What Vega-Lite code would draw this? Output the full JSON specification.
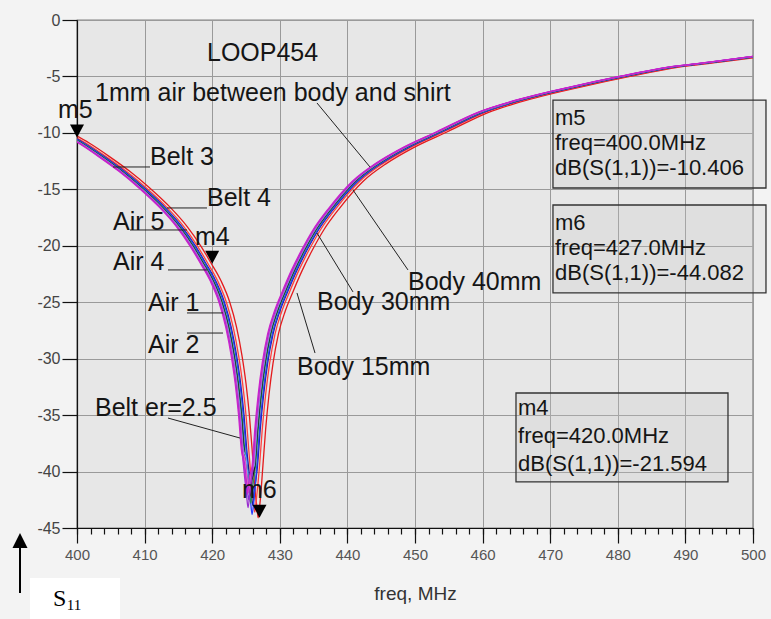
{
"$schema": "https://vega.github.io/schema/vega-lite/v6.json",
"width": 676, "height": 508,
"autosize": {"type": "none"},
"padding": {"left": 77, "top": 20, "right": 18, "bottom": 91},
"background": "#f3f3f3",
"config": {"view": {"stroke": "#111", "strokeWidth": 1.2, "fill": "#e7e7e7"}, "font": "Liberation Sans"},
"resolve": {"axis": {"x": "independent", "y": "independent"}},
"datasets": {
"curves": [
{"c":"Body 15mm","f":398.8,"y":-9.9},{"c":"Body 15mm","f":401.8,"y":-10.9},{"c":"Body 15mm","f":404.8,"y":-12.1},{"c":"Body 15mm","f":407.8,"y":-13.4},{"c":"Body 15mm","f":410.8,"y":-14.9},{"c":"Body 15mm","f":413.8,"y":-16.6},{"c":"Body 15mm","f":416.3,"y":-18.3},{"c":"Body 15mm","f":418.3,"y":-20.0},{"c":"Body 15mm","f":419.8,"y":-21.5},{"c":"Body 15mm","f":421.3,"y":-23.1},{"c":"Body 15mm","f":422.6,"y":-25.0},{"c":"Body 15mm","f":423.6,"y":-27.2},{"c":"Body 15mm","f":424.4,"y":-29.7},{"c":"Body 15mm","f":425.0,"y":-32.2},{"c":"Body 15mm","f":425.5,"y":-35.0},{"c":"Body 15mm","f":425.9,"y":-38.0},{"c":"Body 15mm","f":426.3,"y":-41.4},{"c":"Body 15mm","f":426.6,"y":-43.1},{"c":"Body 15mm","f":426.8,"y":-44.1},{"c":"Body 15mm","f":427.1,"y":-42.6},{"c":"Body 15mm","f":427.5,"y":-39.5},{"c":"Body 15mm","f":427.9,"y":-36.3},{"c":"Body 15mm","f":428.4,"y":-33.2},{"c":"Body 15mm","f":429.0,"y":-30.4},{"c":"Body 15mm","f":429.8,"y":-27.8},{"c":"Body 15mm","f":430.8,"y":-25.8},{"c":"Body 15mm","f":432.0,"y":-24.0},{"c":"Body 15mm","f":433.3,"y":-22.2},{"c":"Body 15mm","f":434.8,"y":-20.4},{"c":"Body 15mm","f":436.5,"y":-18.6},{"c":"Body 15mm","f":438.8,"y":-16.7},{"c":"Body 15mm","f":442.3,"y":-14.3},{"c":"Body 15mm","f":445.8,"y":-12.7},{"c":"Body 15mm","f":449.8,"y":-11.3},{"c":"Body 15mm","f":454.8,"y":-9.9},{"c":"Body 15mm","f":460.8,"y":-8.2},{"c":"Body 15mm","f":467.8,"y":-6.9},{"c":"Body 15mm","f":474.8,"y":-5.9},{"c":"Body 15mm","f":481.8,"y":-5.0},{"c":"Body 15mm","f":488.8,"y":-4.2},{"c":"Body 15mm","f":494.8,"y":-3.75},{"c":"Body 15mm","f":501.8,"y":-3.2},
{"c":"Body 30mm","f":398.3,"y":-9.9},{"c":"Body 30mm","f":401.3,"y":-10.9},{"c":"Body 30mm","f":404.3,"y":-12.1},{"c":"Body 30mm","f":407.3,"y":-13.4},{"c":"Body 30mm","f":410.3,"y":-14.9},{"c":"Body 30mm","f":413.3,"y":-16.6},{"c":"Body 30mm","f":415.8,"y":-18.3},{"c":"Body 30mm","f":417.8,"y":-20.0},{"c":"Body 30mm","f":419.3,"y":-21.5},{"c":"Body 30mm","f":420.8,"y":-23.1},{"c":"Body 30mm","f":422.1,"y":-25.0},{"c":"Body 30mm","f":423.1,"y":-27.2},{"c":"Body 30mm","f":423.9,"y":-29.7},{"c":"Body 30mm","f":424.5,"y":-32.2},{"c":"Body 30mm","f":425.0,"y":-35.0},{"c":"Body 30mm","f":425.4,"y":-38.0},{"c":"Body 30mm","f":425.8,"y":-40.9},{"c":"Body 30mm","f":426.1,"y":-42.6},{"c":"Body 30mm","f":426.3,"y":-43.6},{"c":"Body 30mm","f":426.6,"y":-42.1},{"c":"Body 30mm","f":427.0,"y":-39.5},{"c":"Body 30mm","f":427.4,"y":-36.3},{"c":"Body 30mm","f":427.9,"y":-33.2},{"c":"Body 30mm","f":428.5,"y":-30.4},{"c":"Body 30mm","f":429.3,"y":-27.8},{"c":"Body 30mm","f":430.3,"y":-25.8},{"c":"Body 30mm","f":431.5,"y":-24.0},{"c":"Body 30mm","f":432.8,"y":-22.2},{"c":"Body 30mm","f":434.3,"y":-20.4},{"c":"Body 30mm","f":436.0,"y":-18.6},{"c":"Body 30mm","f":438.3,"y":-16.7},{"c":"Body 30mm","f":441.8,"y":-14.3},{"c":"Body 30mm","f":445.3,"y":-12.7},{"c":"Body 30mm","f":449.3,"y":-11.3},{"c":"Body 30mm","f":454.3,"y":-9.9},{"c":"Body 30mm","f":460.3,"y":-8.2},{"c":"Body 30mm","f":467.3,"y":-6.9},{"c":"Body 30mm","f":474.3,"y":-5.9},{"c":"Body 30mm","f":481.3,"y":-5.0},{"c":"Body 30mm","f":488.3,"y":-4.2},{"c":"Body 30mm","f":494.3,"y":-3.75},{"c":"Body 30mm","f":501.3,"y":-3.2},
{"c":"Body 40mm","f":398.0,"y":-9.9},{"c":"Body 40mm","f":401.0,"y":-10.9},{"c":"Body 40mm","f":404.0,"y":-12.1},{"c":"Body 40mm","f":407.0,"y":-13.4},{"c":"Body 40mm","f":410.0,"y":-14.9},{"c":"Body 40mm","f":413.0,"y":-16.6},{"c":"Body 40mm","f":415.5,"y":-18.3},{"c":"Body 40mm","f":417.5,"y":-20.0},{"c":"Body 40mm","f":419.0,"y":-21.5},{"c":"Body 40mm","f":420.5,"y":-23.1},{"c":"Body 40mm","f":421.8,"y":-25.0},{"c":"Body 40mm","f":422.8,"y":-27.2},{"c":"Body 40mm","f":423.6,"y":-29.7},{"c":"Body 40mm","f":424.2,"y":-32.2},{"c":"Body 40mm","f":424.7,"y":-35.0},{"c":"Body 40mm","f":425.1,"y":-38.0},{"c":"Body 40mm","f":425.5,"y":-40.3},{"c":"Body 40mm","f":425.8,"y":-42.0},{"c":"Body 40mm","f":426.0,"y":-43.0},{"c":"Body 40mm","f":426.3,"y":-41.5},{"c":"Body 40mm","f":426.7,"y":-39.5},{"c":"Body 40mm","f":427.1,"y":-36.3},{"c":"Body 40mm","f":427.6,"y":-33.2},{"c":"Body 40mm","f":428.2,"y":-30.4},{"c":"Body 40mm","f":429.0,"y":-27.8},{"c":"Body 40mm","f":430.0,"y":-25.8},{"c":"Body 40mm","f":431.2,"y":-24.0},{"c":"Body 40mm","f":432.5,"y":-22.2},{"c":"Body 40mm","f":434.0,"y":-20.4},{"c":"Body 40mm","f":435.7,"y":-18.6},{"c":"Body 40mm","f":438.0,"y":-16.7},{"c":"Body 40mm","f":441.5,"y":-14.3},{"c":"Body 40mm","f":445.0,"y":-12.7},{"c":"Body 40mm","f":449.0,"y":-11.3},{"c":"Body 40mm","f":454.0,"y":-9.9},{"c":"Body 40mm","f":460.0,"y":-8.2},{"c":"Body 40mm","f":467.0,"y":-6.9},{"c":"Body 40mm","f":474.0,"y":-5.9},{"c":"Body 40mm","f":481.0,"y":-5.0},{"c":"Body 40mm","f":488.0,"y":-4.2},{"c":"Body 40mm","f":494.0,"y":-3.75},{"c":"Body 40mm","f":501.0,"y":-3.2},
{"c":"Air 2","f":397.9,"y":-9.9},{"c":"Air 2","f":400.9,"y":-10.9},{"c":"Air 2","f":403.9,"y":-12.1},{"c":"Air 2","f":406.9,"y":-13.4},{"c":"Air 2","f":409.9,"y":-14.9},{"c":"Air 2","f":412.9,"y":-16.6},{"c":"Air 2","f":415.4,"y":-18.3},{"c":"Air 2","f":417.4,"y":-20.0},{"c":"Air 2","f":418.9,"y":-21.5},{"c":"Air 2","f":420.4,"y":-23.1},{"c":"Air 2","f":421.7,"y":-25.0},{"c":"Air 2","f":422.7,"y":-27.2},{"c":"Air 2","f":423.5,"y":-29.7},{"c":"Air 2","f":424.1,"y":-32.2},{"c":"Air 2","f":424.6,"y":-35.0},{"c":"Air 2","f":425.0,"y":-38.0},{"c":"Air 2","f":425.4,"y":-41.1},{"c":"Air 2","f":425.7,"y":-42.8},{"c":"Air 2","f":425.9,"y":-43.8},{"c":"Air 2","f":426.2,"y":-42.3},{"c":"Air 2","f":426.6,"y":-39.5},{"c":"Air 2","f":427.0,"y":-36.3},{"c":"Air 2","f":427.5,"y":-33.2},{"c":"Air 2","f":428.1,"y":-30.4},{"c":"Air 2","f":428.9,"y":-27.8},{"c":"Air 2","f":429.9,"y":-25.8},{"c":"Air 2","f":431.1,"y":-24.0},{"c":"Air 2","f":432.4,"y":-22.2},{"c":"Air 2","f":433.9,"y":-20.4},{"c":"Air 2","f":435.6,"y":-18.6},{"c":"Air 2","f":437.9,"y":-16.7},{"c":"Air 2","f":441.4,"y":-14.3},{"c":"Air 2","f":444.9,"y":-12.7},{"c":"Air 2","f":448.9,"y":-11.3},{"c":"Air 2","f":453.9,"y":-9.9},{"c":"Air 2","f":459.9,"y":-8.2},{"c":"Air 2","f":466.9,"y":-6.9},{"c":"Air 2","f":473.9,"y":-5.9},{"c":"Air 2","f":480.9,"y":-5.0},{"c":"Air 2","f":487.9,"y":-4.2},{"c":"Air 2","f":493.9,"y":-3.75},{"c":"Air 2","f":500.9,"y":-3.2},
{"c":"1mm air","f":397.7,"y":-9.9},{"c":"1mm air","f":400.7,"y":-10.9},{"c":"1mm air","f":403.7,"y":-12.1},{"c":"1mm air","f":406.7,"y":-13.4},{"c":"1mm air","f":409.7,"y":-14.9},{"c":"1mm air","f":412.7,"y":-16.6},{"c":"1mm air","f":415.2,"y":-18.3},{"c":"1mm air","f":417.2,"y":-20.0},{"c":"1mm air","f":418.7,"y":-21.5},{"c":"1mm air","f":420.2,"y":-23.1},{"c":"1mm air","f":421.5,"y":-25.0},{"c":"1mm air","f":422.5,"y":-27.2},{"c":"1mm air","f":423.3,"y":-29.7},{"c":"1mm air","f":423.9,"y":-32.2},{"c":"1mm air","f":424.4,"y":-35.0},{"c":"1mm air","f":424.8,"y":-38.0},{"c":"1mm air","f":425.2,"y":-40.1},{"c":"1mm air","f":425.5,"y":-41.8},{"c":"1mm air","f":425.7,"y":-42.8},{"c":"1mm air","f":426.0,"y":-41.3},{"c":"1mm air","f":426.4,"y":-39.5},{"c":"1mm air","f":426.8,"y":-36.3},{"c":"1mm air","f":427.3,"y":-33.2},{"c":"1mm air","f":427.9,"y":-30.4},{"c":"1mm air","f":428.7,"y":-27.8},{"c":"1mm air","f":429.7,"y":-25.8},{"c":"1mm air","f":430.9,"y":-24.0},{"c":"1mm air","f":432.2,"y":-22.2},{"c":"1mm air","f":433.7,"y":-20.4},{"c":"1mm air","f":435.4,"y":-18.6},{"c":"1mm air","f":437.7,"y":-16.7},{"c":"1mm air","f":441.2,"y":-14.3},{"c":"1mm air","f":444.7,"y":-12.7},{"c":"1mm air","f":448.7,"y":-11.3},{"c":"1mm air","f":453.7,"y":-9.9},{"c":"1mm air","f":459.7,"y":-8.2},{"c":"1mm air","f":466.7,"y":-6.9},{"c":"1mm air","f":473.7,"y":-5.9},{"c":"1mm air","f":480.7,"y":-5.0},{"c":"1mm air","f":487.7,"y":-4.2},{"c":"1mm air","f":493.7,"y":-3.75},{"c":"1mm air","f":500.7,"y":-3.2},
{"c":"Air 1","f":397.6,"y":-9.9},{"c":"Air 1","f":400.6,"y":-10.9},{"c":"Air 1","f":403.6,"y":-12.1},{"c":"Air 1","f":406.6,"y":-13.4},{"c":"Air 1","f":409.6,"y":-14.9},{"c":"Air 1","f":412.6,"y":-16.6},{"c":"Air 1","f":415.1,"y":-18.3},{"c":"Air 1","f":417.1,"y":-20.0},{"c":"Air 1","f":418.6,"y":-21.5},{"c":"Air 1","f":420.1,"y":-23.1},{"c":"Air 1","f":421.4,"y":-25.0},{"c":"Air 1","f":422.4,"y":-27.2},{"c":"Air 1","f":423.2,"y":-29.7},{"c":"Air 1","f":423.8,"y":-32.2},{"c":"Air 1","f":424.3,"y":-35.0},{"c":"Air 1","f":424.7,"y":-38.0},{"c":"Air 1","f":425.1,"y":-39.5},{"c":"Air 1","f":425.4,"y":-41.2},{"c":"Air 1","f":425.6,"y":-42.2},{"c":"Air 1","f":425.9,"y":-40.7},{"c":"Air 1","f":426.3,"y":-39.5},{"c":"Air 1","f":426.7,"y":-36.3},{"c":"Air 1","f":427.2,"y":-33.2},{"c":"Air 1","f":427.8,"y":-30.4},{"c":"Air 1","f":428.6,"y":-27.8},{"c":"Air 1","f":429.6,"y":-25.8},{"c":"Air 1","f":430.8,"y":-24.0},{"c":"Air 1","f":432.1,"y":-22.2},{"c":"Air 1","f":433.6,"y":-20.4},{"c":"Air 1","f":435.3,"y":-18.6},{"c":"Air 1","f":437.6,"y":-16.7},{"c":"Air 1","f":441.1,"y":-14.3},{"c":"Air 1","f":444.6,"y":-12.7},{"c":"Air 1","f":448.6,"y":-11.3},{"c":"Air 1","f":453.6,"y":-9.9},{"c":"Air 1","f":459.6,"y":-8.2},{"c":"Air 1","f":466.6,"y":-6.9},{"c":"Air 1","f":473.6,"y":-5.9},{"c":"Air 1","f":480.6,"y":-5.0},{"c":"Air 1","f":487.6,"y":-4.2},{"c":"Air 1","f":493.6,"y":-3.75},{"c":"Air 1","f":500.6,"y":-3.2},
{"c":"Belt er=2.5","f":397.5,"y":-9.9},{"c":"Belt er=2.5","f":400.5,"y":-10.9},{"c":"Belt er=2.5","f":403.5,"y":-12.1},{"c":"Belt er=2.5","f":406.5,"y":-13.4},{"c":"Belt er=2.5","f":409.5,"y":-14.9},{"c":"Belt er=2.5","f":412.5,"y":-16.6},{"c":"Belt er=2.5","f":415.0,"y":-18.3},{"c":"Belt er=2.5","f":417.0,"y":-20.0},{"c":"Belt er=2.5","f":418.5,"y":-21.5},{"c":"Belt er=2.5","f":420.0,"y":-23.1},{"c":"Belt er=2.5","f":421.3,"y":-25.0},{"c":"Belt er=2.5","f":422.3,"y":-27.2},{"c":"Belt er=2.5","f":423.1,"y":-29.7},{"c":"Belt er=2.5","f":423.7,"y":-32.2},{"c":"Belt er=2.5","f":424.2,"y":-35.0},{"c":"Belt er=2.5","f":424.6,"y":-38.0},{"c":"Belt er=2.5","f":425.0,"y":-38.8},{"c":"Belt er=2.5","f":425.3,"y":-40.5},{"c":"Belt er=2.5","f":425.5,"y":-41.5},{"c":"Belt er=2.5","f":425.8,"y":-40.0},{"c":"Belt er=2.5","f":426.2,"y":-39.5},{"c":"Belt er=2.5","f":426.6,"y":-36.3},{"c":"Belt er=2.5","f":427.1,"y":-33.2},{"c":"Belt er=2.5","f":427.7,"y":-30.4},{"c":"Belt er=2.5","f":428.5,"y":-27.8},{"c":"Belt er=2.5","f":429.5,"y":-25.8},{"c":"Belt er=2.5","f":430.7,"y":-24.0},{"c":"Belt er=2.5","f":432.0,"y":-22.2},{"c":"Belt er=2.5","f":433.5,"y":-20.4},{"c":"Belt er=2.5","f":435.2,"y":-18.6},{"c":"Belt er=2.5","f":437.5,"y":-16.7},{"c":"Belt er=2.5","f":441.0,"y":-14.3},{"c":"Belt er=2.5","f":444.5,"y":-12.7},{"c":"Belt er=2.5","f":448.5,"y":-11.3},{"c":"Belt er=2.5","f":453.5,"y":-9.9},{"c":"Belt er=2.5","f":459.5,"y":-8.2},{"c":"Belt er=2.5","f":466.5,"y":-6.9},{"c":"Belt er=2.5","f":473.5,"y":-5.9},{"c":"Belt er=2.5","f":480.5,"y":-5.0},{"c":"Belt er=2.5","f":487.5,"y":-4.2},{"c":"Belt er=2.5","f":493.5,"y":-3.75},{"c":"Belt er=2.5","f":500.5,"y":-3.2},
{"c":"Air 4","f":397.4,"y":-9.9},{"c":"Air 4","f":400.4,"y":-10.9},{"c":"Air 4","f":403.4,"y":-12.1},{"c":"Air 4","f":406.4,"y":-13.4},{"c":"Air 4","f":409.4,"y":-14.9},{"c":"Air 4","f":412.4,"y":-16.6},{"c":"Air 4","f":414.9,"y":-18.3},{"c":"Air 4","f":416.9,"y":-20.0},{"c":"Air 4","f":418.4,"y":-21.5},{"c":"Air 4","f":419.9,"y":-23.1},{"c":"Air 4","f":421.2,"y":-25.0},{"c":"Air 4","f":422.2,"y":-27.2},{"c":"Air 4","f":423.0,"y":-29.7},{"c":"Air 4","f":423.6,"y":-32.2},{"c":"Air 4","f":424.1,"y":-35.0},{"c":"Air 4","f":424.5,"y":-38.0},{"c":"Air 4","f":424.9,"y":-39.8},{"c":"Air 4","f":425.2,"y":-41.5},{"c":"Air 4","f":425.4,"y":-42.5},{"c":"Air 4","f":425.7,"y":-41.0},{"c":"Air 4","f":426.1,"y":-39.5},{"c":"Air 4","f":426.5,"y":-36.3},{"c":"Air 4","f":427.0,"y":-33.2},{"c":"Air 4","f":427.6,"y":-30.4},{"c":"Air 4","f":428.4,"y":-27.8},{"c":"Air 4","f":429.4,"y":-25.8},{"c":"Air 4","f":430.6,"y":-24.0},{"c":"Air 4","f":431.9,"y":-22.2},{"c":"Air 4","f":433.4,"y":-20.4},{"c":"Air 4","f":435.1,"y":-18.6},{"c":"Air 4","f":437.4,"y":-16.7},{"c":"Air 4","f":440.9,"y":-14.3},{"c":"Air 4","f":444.4,"y":-12.7},{"c":"Air 4","f":448.4,"y":-11.3},{"c":"Air 4","f":453.4,"y":-9.9},{"c":"Air 4","f":459.4,"y":-8.2},{"c":"Air 4","f":466.4,"y":-6.9},{"c":"Air 4","f":473.4,"y":-5.9},{"c":"Air 4","f":480.4,"y":-5.0},{"c":"Air 4","f":487.4,"y":-4.2},{"c":"Air 4","f":493.4,"y":-3.75},{"c":"Air 4","f":500.4,"y":-3.2},
{"c":"Belt 3","f":397.4,"y":-9.9},{"c":"Belt 3","f":400.4,"y":-10.9},{"c":"Belt 3","f":403.4,"y":-12.1},{"c":"Belt 3","f":406.4,"y":-13.4},{"c":"Belt 3","f":409.4,"y":-14.9},{"c":"Belt 3","f":412.4,"y":-16.6},{"c":"Belt 3","f":414.9,"y":-18.3},{"c":"Belt 3","f":416.9,"y":-20.0},{"c":"Belt 3","f":418.4,"y":-21.5},{"c":"Belt 3","f":419.9,"y":-23.1},{"c":"Belt 3","f":421.2,"y":-25.0},{"c":"Belt 3","f":422.2,"y":-27.2},{"c":"Belt 3","f":423.0,"y":-29.7},{"c":"Belt 3","f":423.6,"y":-32.2},{"c":"Belt 3","f":424.1,"y":-35.0},{"c":"Belt 3","f":424.5,"y":-38.0},{"c":"Belt 3","f":424.9,"y":-39.1},{"c":"Belt 3","f":425.2,"y":-40.8},{"c":"Belt 3","f":425.4,"y":-41.8},{"c":"Belt 3","f":425.7,"y":-40.3},{"c":"Belt 3","f":426.1,"y":-39.5},{"c":"Belt 3","f":426.5,"y":-36.3},{"c":"Belt 3","f":427.0,"y":-33.2},{"c":"Belt 3","f":427.6,"y":-30.4},{"c":"Belt 3","f":428.4,"y":-27.8},{"c":"Belt 3","f":429.4,"y":-25.8},{"c":"Belt 3","f":430.6,"y":-24.0},{"c":"Belt 3","f":431.9,"y":-22.2},{"c":"Belt 3","f":433.4,"y":-20.4},{"c":"Belt 3","f":435.1,"y":-18.6},{"c":"Belt 3","f":437.4,"y":-16.7},{"c":"Belt 3","f":440.9,"y":-14.3},{"c":"Belt 3","f":444.4,"y":-12.7},{"c":"Belt 3","f":448.4,"y":-11.3},{"c":"Belt 3","f":453.4,"y":-9.9},{"c":"Belt 3","f":459.4,"y":-8.2},{"c":"Belt 3","f":466.4,"y":-6.9},{"c":"Belt 3","f":473.4,"y":-5.9},{"c":"Belt 3","f":480.4,"y":-5.0},{"c":"Belt 3","f":487.4,"y":-4.2},{"c":"Belt 3","f":493.4,"y":-3.75},{"c":"Belt 3","f":500.4,"y":-3.2},
{"c":"Air 5","f":397.3,"y":-9.9},{"c":"Air 5","f":400.3,"y":-10.9},{"c":"Air 5","f":403.3,"y":-12.1},{"c":"Air 5","f":406.3,"y":-13.4},{"c":"Air 5","f":409.3,"y":-14.9},{"c":"Air 5","f":412.3,"y":-16.6},{"c":"Air 5","f":414.8,"y":-18.3},{"c":"Air 5","f":416.8,"y":-20.0},{"c":"Air 5","f":418.3,"y":-21.5},{"c":"Air 5","f":419.8,"y":-23.1},{"c":"Air 5","f":421.1,"y":-25.0},{"c":"Air 5","f":422.1,"y":-27.2},{"c":"Air 5","f":422.9,"y":-29.7},{"c":"Air 5","f":423.5,"y":-32.2},{"c":"Air 5","f":424.0,"y":-35.0},{"c":"Air 5","f":424.4,"y":-38.0},{"c":"Air 5","f":424.8,"y":-40.5},{"c":"Air 5","f":425.1,"y":-42.2},{"c":"Air 5","f":425.3,"y":-43.2},{"c":"Air 5","f":425.6,"y":-41.7},{"c":"Air 5","f":426.0,"y":-39.5},{"c":"Air 5","f":426.4,"y":-36.3},{"c":"Air 5","f":426.9,"y":-33.2},{"c":"Air 5","f":427.5,"y":-30.4},{"c":"Air 5","f":428.3,"y":-27.8},{"c":"Air 5","f":429.3,"y":-25.8},{"c":"Air 5","f":430.5,"y":-24.0},{"c":"Air 5","f":431.8,"y":-22.2},{"c":"Air 5","f":433.3,"y":-20.4},{"c":"Air 5","f":435.0,"y":-18.6},{"c":"Air 5","f":437.3,"y":-16.7},{"c":"Air 5","f":440.8,"y":-14.3},{"c":"Air 5","f":444.3,"y":-12.7},{"c":"Air 5","f":448.3,"y":-11.3},{"c":"Air 5","f":453.3,"y":-9.9},{"c":"Air 5","f":459.3,"y":-8.2},{"c":"Air 5","f":466.3,"y":-6.9},{"c":"Air 5","f":473.3,"y":-5.9},{"c":"Air 5","f":480.3,"y":-5.0},{"c":"Air 5","f":487.3,"y":-4.2},{"c":"Air 5","f":493.3,"y":-3.75},{"c":"Air 5","f":500.3,"y":-3.2},
{"c":"Belt 4","f":397.2,"y":-9.9},{"c":"Belt 4","f":400.2,"y":-10.9},{"c":"Belt 4","f":403.2,"y":-12.1},{"c":"Belt 4","f":406.2,"y":-13.4},{"c":"Belt 4","f":409.2,"y":-14.9},{"c":"Belt 4","f":412.2,"y":-16.6},{"c":"Belt 4","f":414.7,"y":-18.3},{"c":"Belt 4","f":416.7,"y":-20.0},{"c":"Belt 4","f":418.2,"y":-21.5},{"c":"Belt 4","f":419.7,"y":-23.1},{"c":"Belt 4","f":421.0,"y":-25.0},{"c":"Belt 4","f":422.0,"y":-27.2},{"c":"Belt 4","f":422.8,"y":-29.7},{"c":"Belt 4","f":423.4,"y":-32.2},{"c":"Belt 4","f":423.9,"y":-35.0},{"c":"Belt 4","f":424.3,"y":-38.0},{"c":"Belt 4","f":424.7,"y":-39.3},{"c":"Belt 4","f":425.0,"y":-41.0},{"c":"Belt 4","f":425.2,"y":-42.0},{"c":"Belt 4","f":425.5,"y":-40.5},{"c":"Belt 4","f":425.9,"y":-39.5},{"c":"Belt 4","f":426.3,"y":-36.3},{"c":"Belt 4","f":426.8,"y":-33.2},{"c":"Belt 4","f":427.4,"y":-30.4},{"c":"Belt 4","f":428.2,"y":-27.8},{"c":"Belt 4","f":429.2,"y":-25.8},{"c":"Belt 4","f":430.4,"y":-24.0},{"c":"Belt 4","f":431.7,"y":-22.2},{"c":"Belt 4","f":433.2,"y":-20.4},{"c":"Belt 4","f":434.9,"y":-18.6},{"c":"Belt 4","f":437.2,"y":-16.7},{"c":"Belt 4","f":440.7,"y":-14.3},{"c":"Belt 4","f":444.2,"y":-12.7},{"c":"Belt 4","f":448.2,"y":-11.3},{"c":"Belt 4","f":453.2,"y":-9.9},{"c":"Belt 4","f":459.2,"y":-8.2},{"c":"Belt 4","f":466.2,"y":-6.9},{"c":"Belt 4","f":473.2,"y":-5.9},{"c":"Belt 4","f":480.2,"y":-5.0},{"c":"Belt 4","f":487.2,"y":-4.2},{"c":"Belt 4","f":493.2,"y":-3.75},{"c":"Belt 4","f":500.2,"y":-3.2}
],
"labels": [
{"t":"LOOP454","f":419.23,"y":-2.92},
{"t":"1mm air between body and shirt","f":402.66,"y":-6.47},
{"t":"m5","f":397.19,"y":-7.97},
{"t":"Belt 3","f":410.8,"y":-12.14},
{"t":"Belt 4","f":419.23,"y":-15.77},
{"t":"Air 5","f":405.33,"y":-17.89},
{"t":"m4","f":417.46,"y":-19.22},
{"t":"Air 4","f":405.33,"y":-21.44},
{"t":"Air 1","f":410.5,"y":-25.07},
{"t":"Air 2","f":410.5,"y":-28.79},
{"t":"Belt er=2.5","f":402.66,"y":-34.37},
{"t":"m6","f":424.41,"y":-41.63},
{"t":"Body 15mm","f":432.54,"y":-30.74},
{"t":"Body 30mm","f":435.5,"y":-24.98},
{"t":"Body 40mm","f":448.96,"y":-23.21}
],
"readouts": [
{"t":"m5","f":470.71,"y":-8.68},
{"t":"freq=400.0MHz","f":470.71,"y":-10.9},
{"t":"dB(S(1,1))=-10.406","f":470.71,"y":-13.11},
{"t":"m6","f":470.71,"y":-17.98},
{"t":"freq=427.0MHz","f":470.71,"y":-20.2},
{"t":"dB(S(1,1))=-44.082","f":470.71,"y":-22.41},
{"t":"m4","f":465.24,"y":-34.37},
{"t":"freq=420.0MHz","f":465.24,"y":-36.85},
{"t":"dB(S(1,1))=-21.594","f":465.24,"y":-39.33}
],
"leaders": [
{"f":405.33,"y":-13.02,"f2":410.8,"y2":-13.02},
{"f":413.31,"y":-16.65,"f2":419.23,"y2":-16.65},
{"f":407.84,"y":-18.6,"f2":416.27,"y2":-18.6},
{"f":413.46,"y":-22.14,"f2":419.23,"y2":-22.14},
{"f":416.27,"y":-25.95,"f2":421.6,"y2":-25.95},
{"f":416.27,"y":-27.73,"f2":421.6,"y2":-27.73},
{"f":413.46,"y":-35.26,"f2":424.11,"y2":-37.03},
{"f":435.21,"y":-29.5,"f2":432.54,"y2":-24.18},
{"f":440.83,"y":-24.09,"f2":435.5,"y2":-18.87},
{"f":448.96,"y":-22.14,"f2":440.83,"y2":-15.06},
{"f":435.5,"y":-7.35,"f2":443.34,"y2":-13.02}
],
"markers": [
{"m":"m5","f":400,"y":-10.406},
{"m":"m6","f":427,"y":-44.082},
{"m":"m4","f":420,"y":-21.594}
],
"boxes": [
{"m":"m5","f":470.41,"f2":501.92,"y":-7.09,"y2":-14.88},
{"m":"m6","f":470.41,"f2":501.92,"y":-16.39,"y2":-24.18},
{"m":"m4","f":464.94,"f2":496.3,"y":-33.04,"y2":-40.92}
],
"s11box": [{"f":393.05,"f2":406.36,"y":-49.43,"y2":-53.06}],
"arrow": [{"f":391.57,"y":-45.44,"yb":-46.5,"y2":-50.76}],
"s11": [{"t":"S","f":396.45,"y":-51.3},{"t":"11","f":398.5,"y":-51.85}]
},
"layer": [
{"data":{"name":"s11box"},"mark":{"type":"rect","fill":"#ffffff","stroke":null},
 "encoding":{"x":{"field":"f","type":"quantitative","scale":{"domain":[400,500],"nice":false},"axis":null},"x2":{"field":"f2"},
 "y":{"field":"y","type":"quantitative","scale":{"domain":[-45,0],"nice":false,"zero":false},"axis":null},"y2":{"field":"y2"}}},
{"data":{"name":"arrow"},"mark":{"type":"rule","color":"#000","strokeWidth":2},
 "encoding":{"x":{"field":"f","type":"quantitative","scale":{"domain":[400,500],"nice":false},"axis":null},
 "y":{"field":"yb","type":"quantitative","scale":{"domain":[-45,0],"nice":false,"zero":false},"axis":null},"y2":{"field":"y2"}}},
{"data":{"name":"arrow"},"mark":{"type":"point","shape":"M0,0L0.75,1.5L-0.75,1.5Z","filled":true,"color":"#000","opacity":1,"size":400},
 "encoding":{"x":{"field":"f","type":"quantitative","scale":{"domain":[400,500],"nice":false},"axis":null},
 "y":{"field":"y","type":"quantitative","scale":{"domain":[-45,0],"nice":false,"zero":false},"axis":null}}},
{"data":{"name":"s11"},"transform":[{"filter":"datum.t == 'S'"}],"mark":{"type":"text","align":"left","baseline":"middle","font":"Liberation Serif","fontSize":24,"color":"#000"},
 "encoding":{"x":{"field":"f","type":"quantitative","scale":{"domain":[400,500],"nice":false},"axis":null},
 "y":{"field":"y","type":"quantitative","scale":{"domain":[-45,0],"nice":false,"zero":false},"axis":null},"text":{"field":"t"}}},
{"data":{"name":"s11"},"transform":[{"filter":"datum.t == '11'"}],"mark":{"type":"text","align":"left","baseline":"middle","font":"Liberation Serif","fontSize":15,"color":"#000"},
 "encoding":{"x":{"field":"f","type":"quantitative","scale":{"domain":[400,500],"nice":false},"axis":null},
 "y":{"field":"y","type":"quantitative","scale":{"domain":[-45,0],"nice":false,"zero":false},"axis":null},"text":{"field":"t"}}},
{"data":{"name":"curves"},"mark":{"type":"line","clip":true,"strokeWidth":1.3,"interpolate":"monotone"},
 "encoding":{
  "x":{"field":"f","type":"quantitative","scale":{"domain":[400,500],"nice":false},
   "axis":{"orient":"bottom","values":[400,410,420,430,440,450,460,470,480,490,500],"tickSize":15,"tickColor":"#111","tickWidth":1.2,"domainColor":"#111","domainWidth":1.2,"labelFontSize":15,"labelColor":"#555","labelPadding":4,"labelFont":"Liberation Sans","labelFlush":false,"labelOverlap":false,"title":"freq, MHz","titleFontSize":19,"titleFontWeight":"normal","titleColor":"#333","titleFont":"Liberation Sans","titlePadding":22,"grid":true,"gridColor":"#9a9a9a","gridWidth":1}},
  "y":{"field":"y","type":"quantitative","scale":{"domain":[-45,0],"nice":false,"zero":false},
   "axis":{"orient":"left","values":[0,-5,-10,-15,-20,-25,-30,-35,-40,-45],"labelExpr":"'' + datum.value","tickSize":15,"tickColor":"#111","tickWidth":1.2,"domainColor":"#111","domainWidth":1.2,"labelFontSize":16,"labelColor":"#444","labelPadding":2,"labelFont":"Liberation Sans","labelFlush":false,"labelOverlap":false,"title":null,"grid":true,"gridColor":"#9a9a9a","gridWidth":1}},
  "color":{"field":"c","type":"nominal","legend":null,"scale":{"domain":["Body 15mm","Body 30mm","Body 40mm","Air 2","1mm air","Air 1","Belt er=2.5","Air 4","Belt 3","Air 5","Belt 4"],"range":["#e41a1c","#ff4040","#1a1a8c","#2b3dff","#2e8b57","#1a1a1a","#5ab4ee","#7a3cd6","#e055c8","#9b30d0","#cc22cc"]}}}},
{"data":{"name":"leaders"},"mark":{"type":"rule","color":"#222","strokeWidth":1},
 "encoding":{"x":{"field":"f","type":"quantitative","scale":{"domain":[400,500],"nice":false},"axis":null},"x2":{"field":"f2"},
 "y":{"field":"y","type":"quantitative","scale":{"domain":[-45,0],"nice":false,"zero":false},"axis":null},"y2":{"field":"y2"}}},
{"data":{"name":"boxes"},"mark":{"type":"rect","fill":"#c8c8c8","fillOpacity":0.25,"stroke":"#333","strokeWidth":1.3},
 "encoding":{"x":{"field":"f","type":"quantitative","scale":{"domain":[400,500],"nice":false},"axis":null},"x2":{"field":"f2"},
 "y":{"field":"y","type":"quantitative","scale":{"domain":[-45,0],"nice":false,"zero":false},"axis":null},"y2":{"field":"y2"}}},
{"data":{"name":"labels"},"mark":{"type":"text","align":"left","baseline":"middle","font":"Liberation Sans","fontSize":25,"color":"#151515"},
 "encoding":{"x":{"field":"f","type":"quantitative","scale":{"domain":[400,500],"nice":false},"axis":null},
 "y":{"field":"y","type":"quantitative","scale":{"domain":[-45,0],"nice":false,"zero":false},"axis":null},"text":{"field":"t"}}},
{"data":{"name":"readouts"},"mark":{"type":"text","align":"left","baseline":"middle","font":"Liberation Sans","fontSize":22,"color":"#151515"},
 "encoding":{"x":{"field":"f","type":"quantitative","scale":{"domain":[400,500],"nice":false},"axis":null},
 "y":{"field":"y","type":"quantitative","scale":{"domain":[-45,0],"nice":false,"zero":false},"axis":null},"text":{"field":"t"}}},
{"data":{"name":"markers"},"mark":{"type":"point","shape":"M-1,-1.85L1,-1.85L0,0Z","filled":true,"color":"#000","opacity":1,"size":196},
 "encoding":{"x":{"field":"f","type":"quantitative","scale":{"domain":[400,500],"nice":false},
   "axis":{"orient":"bottom","values":[400,402,404,406,408,410,412,414,416,418,420,422,424,426,428,430,432,434,436,438,440,442,444,446,448,450,452,454,456,458,460,462,464,466,468,470,472,474,476,478,480,482,484,486,488,490,492,494,496,498,500],"tickSize":6,"tickColor":"#111","tickWidth":1.2,"labels":false,"domain":false,"grid":false,"title":null}},
 "y":{"field":"y","type":"quantitative","scale":{"domain":[-45,0],"nice":false,"zero":false},"axis":null}}}
]
}
